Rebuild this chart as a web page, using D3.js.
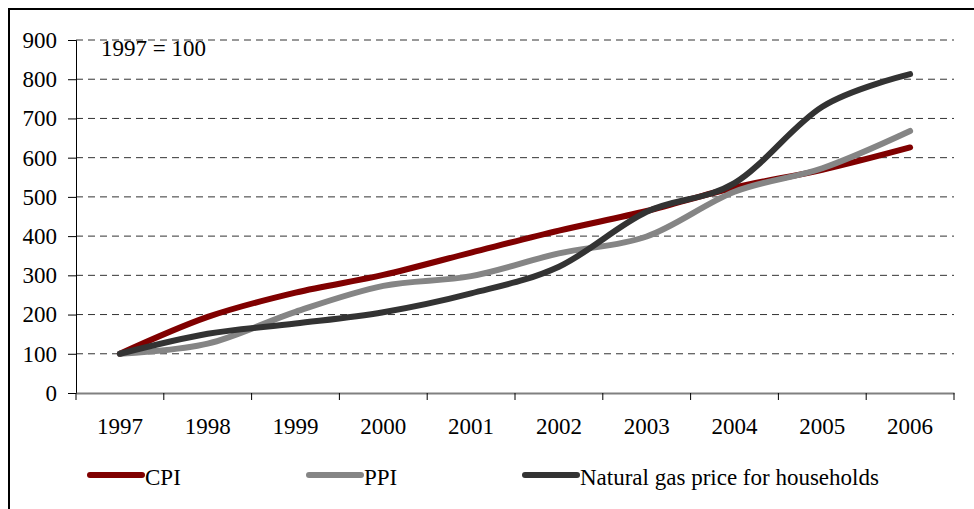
<!DOCTYPE html>
<html>
<head>
<meta charset="utf-8">
<script src="https://cdn.jsdelivr.net/npm/d3@7"></script>
<style>
  body { margin: 0; background: #fff; }
  text { font-family: "Liberation Serif", "Times New Roman", serif; fill: #000; }
</style>
</head>
<body>
<svg width="974" height="509"></svg>
<script>
var years = ["1997", "1998", "1999", "2000", "2001", "2002", "2003", "2004", "2005", "2006"];
var cpi = [100, 194, 256, 301, 358, 414, 464, 524, 569, 626];
var ppi = [100, 126, 207, 273, 298, 356, 399, 513, 573, 668];
var gas = [100, 151, 177, 206, 254, 322, 462, 535, 730, 813];
var yTicks = [0, 100, 200, 300, 400, 500, 600, 700, 800, 900];

var series = [
  {name: "CPI", values: cpi, color: "#800000", lx: 90},
  {name: "PPI", values: ppi, color: "#858585", lx: 309},
  {name: "Natural gas price for households", values: gas, color: "#333333", lx: 525}
];

var svg = d3.select("svg");

// chart frame (right and bottom edges fall outside the picture)
svg.append("rect")
    .attr("x", 9).attr("y", 9)
    .attr("width", 1000).attr("height", 560)
    .attr("fill", "none")
    .attr("stroke", "#000")
    .attr("stroke-width", 2);

var x = d3.scaleBand().domain(years).range([76, 954]);
var y = d3.scaleLinear().domain([0, 900]).range([393, 40]);

// gridlines
svg.append("g")
  .selectAll("line")
  .data(yTicks.slice(1))
  .enter().append("line")
    .attr("x1", 76).attr("x2", 954)
    .attr("y1", d => y(d)).attr("y2", d => y(d))
    .attr("stroke", "#333")
    .attr("stroke-width", 1)
    .attr("stroke-dasharray", "7,5");

// y axis
var yAxis = svg.append("g")
    .attr("transform", "translate(76,0)")
    .call(d3.axisLeft(y).tickValues(yTicks).tickSize(8).tickPadding(11));
yAxis.select(".domain").attr("stroke", "#000");
yAxis.selectAll("text").style("font-size", "23px")
    .style("font-family", "'Liberation Serif', serif");

// x axis
var xAxis = svg.append("g")
    .attr("transform", "translate(0,393)")
    .call(d3.axisBottom(x).tickSize(0).tickPadding(25));
xAxis.select(".domain").attr("stroke", "#808080").attr("stroke-width", 2);
xAxis.selectAll("text").style("font-size", "23px")
    .style("font-family", "'Liberation Serif', serif");

// tick marks on the band edges
svg.append("g")
  .selectAll("line")
  .data(years.map(d => x(d)).concat([x.range()[1]]))
  .enter().append("line")
    .attr("x1", d => d).attr("x2", d => d)
    .attr("y1", 393).attr("y2", 400)
    .attr("stroke", "#000");

var line = d3.line()
    .x((d, i) => x(years[i]) + x.bandwidth() / 2)
    .y(d => y(d))
    .curve(d3.curveCardinal.tension(0));

svg.append("g")
  .selectAll("path")
  .data(series)
  .enter().append("path")
    .attr("d", d => line(d.values))
    .attr("fill", "none")
    .attr("stroke", d => d.color)
    .attr("stroke-width", 6)
    .attr("stroke-linecap", "round")
    .attr("stroke-linejoin", "round");

svg.append("text")
    .attr("x", 101).attr("y", 56)
    .style("font-size", "23px")
    .text("1997 = 100");

// legend
var legend = svg.append("g")
  .selectAll("g")
  .data(series)
  .enter().append("g");

legend.append("line")
    .attr("x1", d => d.lx).attr("x2", d => d.lx + 52)
    .attr("y1", 475).attr("y2", 475)
    .attr("stroke", d => d.color)
    .attr("stroke-width", 6)
    .attr("stroke-linecap", "round");

legend.append("text")
    .attr("x", d => d.lx + 55)
    .attr("y", 485)
    .style("font-size", "23px")
    .text(d => d.name);
</script>
</body>
</html>
